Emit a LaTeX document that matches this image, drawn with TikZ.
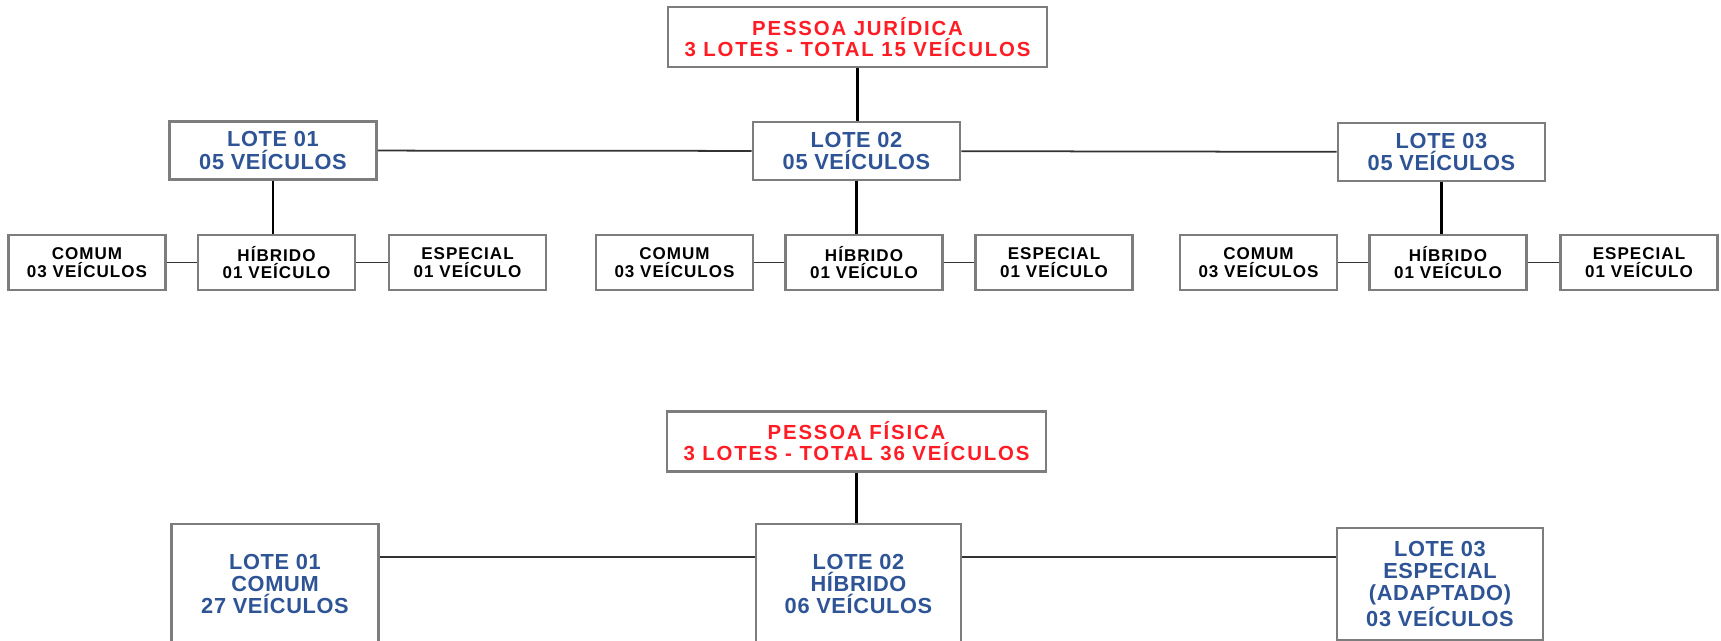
\documentclass[tikz,border=0pt]{standalone}
\usepackage{fontspec}
\setmainfont{Liberation Sans}
\usepackage{xcolor}
\definecolor{titlered}{RGB}{255,28,36}
\definecolor{lotblue}{RGB}{46,84,150}
\definecolor{boxgray}{RGB}{125,125,125}
\definecolor{linegray}{RGB}{50,50,50}

\begin{document}
\begin{tikzpicture}[x=0.02cm,y=-0.02cm,
  box/.style={draw=boxgray, line width=1.6pt, fill=white, align=center, inner sep=0pt, font=\bfseries},
  topbox/.style={box, minimum width=379*0.02cm, minimum height=60*0.02cm, text=titlered, font=\bfseries\fontsize{11.6}{12}\selectfont\addfontfeature{LetterSpace=9}},
  lotbox/.style={box, minimum width=207*0.02cm, minimum height=58*0.02cm, text=lotblue, font=\bfseries\fontsize{12.4}{12.9}\selectfont\addfontfeature{LetterSpace=3}},
  subbox/.style={box, minimum width=157*0.02cm, minimum height=55*0.02cm, text=black, font=\bfseries\fontsize{9.7}{10}\selectfont\addfontfeature{LetterSpace=6}},
  bigbox/.style={box, minimum width=207*0.02cm, minimum height=120*0.02cm, text=lotblue, font=\bfseries\fontsize{12.4}{12.5}\selectfont\addfontfeature{LetterSpace=3}},
  thick link/.style={draw=black, line width=1.6pt},
  thin link/.style={draw=linegray, line width=1pt}]
\useasboundingbox (0,0) rectangle (1721,640);

% pessoa juridica
\node[topbox] (pj) at (857.5,37) {PESSOA JURÍDICA\\3 LOTES - TOTAL 15 VEÍCULOS};
\node[lotbox] (lote1) at (273,150.5) {LOTE 01\\05 VEÍCULOS};
\node[lotbox] (lote2) at (856.5,151) {LOTE 02\\05 VEÍCULOS};
\node[lotbox] (lote3) at (1441.5,152) {LOTE 03\\05 VEÍCULOS};
\node[subbox] (com1) at (87,262.5) {COMUM\\03 VEÍCULOS};
\node[subbox] (hib1) at (276.5,262.5) {HÍBRIDO\\01 VEÍCULO};
\node[subbox] (esp1) at (467.5,262.5) {ESPECIAL\\01 VEÍCULO};
\node[subbox] (com2) at (674.5,262.5) {COMUM\\03 VEÍCULOS};
\node[subbox] (hib2) at (864,262.5) {HÍBRIDO\\01 VEÍCULO};
\node[subbox] (esp2) at (1054,262.5) {ESPECIAL\\01 VEÍCULO};
\node[subbox] (com3) at (1258.5,262.5) {COMUM\\03 VEÍCULOS};
\node[subbox] (hib3) at (1448,262.5) {HÍBRIDO\\01 VEÍCULO};
\node[subbox] (esp3) at (1639,262.5) {ESPECIAL\\01 VEÍCULO};
\path[thick link] (pj.south) edge (pj.south |- lote2.north);
\path[thin link] (lote1) edge (lote2);
\path[thin link] (lote2) edge (lote3);
\path[thick link] (lote1.south) edge (lote1.south |- hib1.north);
\path[thick link] (lote2.south) edge (lote2.south |- hib2.north);
\path[thick link] (lote3.south) edge (lote3.south |- hib3.north);
\path[thin link] (com1) edge (hib1);
\path[thin link] (hib1) edge (esp1);
\path[thin link] (com2) edge (hib2);
\path[thin link] (hib2) edge (esp2);
\path[thin link] (com3) edge (hib3);
\path[thin link] (hib3) edge (esp3);

% pessoa fisica
\node[topbox] (pf) at (856.5,441.5) {PESSOA FÍSICA\\3 LOTES - TOTAL 36 VEÍCULOS};
\node[bigbox] (blote1) at (275,584) {LOTE 01\\COMUM\\27 VEÍCULOS};
\node[bigbox, minimum width=205*0.02cm] (blote2) at (858.5,584) {LOTE 02\\HÍBRIDO\\06 VEÍCULOS};
\node[bigbox, minimum width=206*0.02cm, minimum height=112*0.02cm] (blote3) at (1440,584) {LOTE 03\\ESPECIAL\\(ADAPTADO)\\03 VEÍCULOS};
\coordinate (mid) at (0,557);
\path[thick link] (pf.south) edge (pf.south |- blote2.north);
\path[thin link] (blote1.east |- mid) edge (blote2.west |- mid);
\path[thin link] (blote2.east |- mid) edge (blote3.west |- mid);
\end{tikzpicture}
\end{document}
